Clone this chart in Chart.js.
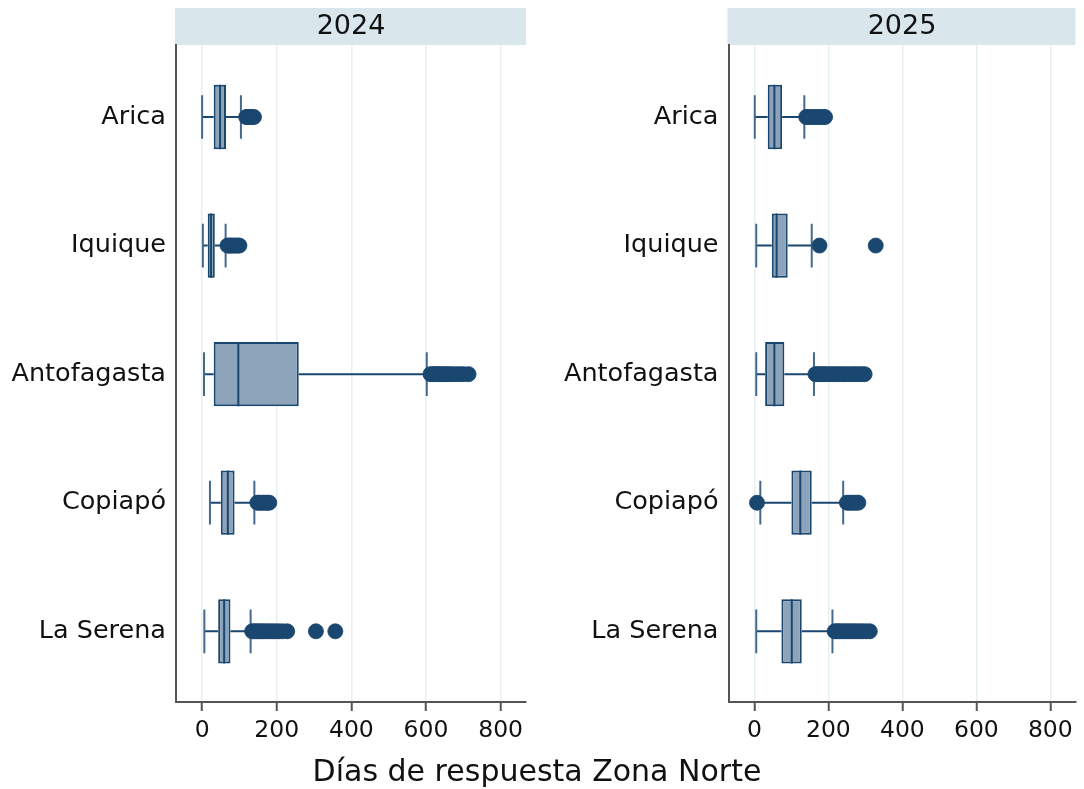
<!DOCTYPE html>
<html>
<head>
<meta charset="utf-8">
<script src="https://cdn.jsdelivr.net/npm/chart.js@4.4.1/dist/chart.umd.min.js"></script>
<style>
html,body{margin:0;padding:0;background:#fff;width:1084px;height:789px;overflow:hidden;}
#w1{position:absolute;left:0;top:0;width:540px;height:789px;}
#w2{position:absolute;left:540px;top:0;width:544px;height:789px;}
#xtitle{position:absolute;left:-5px;width:1084px;top:753px;text-align:center;font-family:'DejaVu Sans';font-size:30px;line-height:36px;color:#111;}
</style>
</head>
<body>
<div id="w1"><canvas id="c1"></canvas></div>
<div id="w2"><canvas id="c2"></canvas></div>
<div id="xtitle">Días de respuesta Zona Norte</div>
<script>
// ---- data ----
const cities = ['Arica', 'Iquique', 'Antofagasta', 'Copiapó', 'La Serena'];
const xTicks = [0, 200, 400, 600, 800];

// 2024
const lo2024  = [0, 2, 5, 21, 6];
const q1_2024 = [31, 15, 31, 50, 43];
const med2024 = [48, 24, 97, 69, 59];
const q3_2024 = [64, 34, 259, 87, 76];
const hi2024  = [104, 63, 602, 140, 130];
const out2024 = [
  [118, 122, 126, 130, 134, 139],
  [68, 72, 76, 80, 85, 90, 95, 100],
  [612, 618, 624, 630, 636, 642, 648, 655, 662, 670, 680, 690, 700, 714],
  [148, 153, 158, 164, 170, 175, 180],
  [134, 140, 146, 152, 158, 165, 172, 180, 188, 196, 205, 215, 228, 305, 357]
];

// 2025
const lo2025  = [1, 5, 5, 16, 5];
const q1_2025 = [36, 47, 29, 100, 73];
const med2025 = [54, 60, 54, 124, 101];
const q3_2025 = [75, 90, 81, 155, 128];
const hi2025  = [135, 155, 161, 240, 211];
const out2025 = [
  [140, 146, 152, 158, 165, 172, 180, 186, 191],
  [176, 328],
  [165, 171, 177, 184, 191, 198, 206, 214, 222, 230, 238, 246, 255, 264, 272, 281, 290, 298],
  [7, 250, 256, 262, 268, 275, 281],
  [217, 223, 229, 235, 242, 249, 256, 263, 270, 278, 286, 294, 303, 312]
];

// ---- style ----
const NAVY = '#1a476f';
const BOXFILL = '#8ca3ba';
const CAPCOL = '#45698e';
const GRID = '#e6eff2';
const AXIS = '#555555';
const STRIP = '#d9e6eb';
const FONT = 'DejaVu Sans';
const BOX_HALF = 0.25;
const CAP_HALF = 0.17;

const stripPlugin = {
  id: 'strip',
  beforeDraw(chart) {
    const a = chart.chartArea, ctx = chart.ctx;
    ctx.save();
    ctx.fillStyle = STRIP;
    ctx.fillRect(a.left - 1, 8, a.right - a.left + 1, a.top - 8);
    ctx.restore();
  }
};

function makeChart(id, year, lo, q1, med, q3, hi, outs, yWidth, padRight) {
  const boxData = cities.map((c, i) => ({ y: i, x: [q1[i], q3[i]] }));
  const whiskers = [], medians = [], caps = [], outliers = [];
  cities.forEach((c, i) => {
    whiskers.push({ x: lo[i], y: i }, { x: q1[i], y: i }, { x: null, y: null },
                  { x: q3[i], y: i }, { x: hi[i], y: i }, { x: null, y: null });
    medians.push({ x: med[i], y: i - BOX_HALF }, { x: med[i], y: i + BOX_HALF }, { x: null, y: null });
    caps.push({ x: lo[i], y: i - CAP_HALF }, { x: lo[i], y: i + CAP_HALF }, { x: null, y: null },
              { x: hi[i], y: i - CAP_HALF }, { x: hi[i], y: i + CAP_HALF }, { x: null, y: null });
    outs[i].forEach(v => outliers.push({ x: v, y: i }));
  });

  return new Chart(document.getElementById(id), {
    type: 'scatter',
    data: {
      datasets: [
        { type: 'scatter', data: outliers, order: 0, pointRadius: 7.5, pointHoverRadius: 7.5,
          backgroundColor: NAVY, borderColor: 'rgba(26,71,111,0.85)', borderWidth: 1 },
        { type: 'scatter', data: caps, order: 1, showLine: true, spanGaps: false, pointRadius: 0,
          borderColor: CAPCOL, borderWidth: 2 },
        { type: 'scatter', data: medians, order: 2, showLine: true, spanGaps: false, pointRadius: 0,
          borderColor: NAVY, borderWidth: 2 },
        { type: 'bar', data: boxData, order: 3, indexAxis: 'y',
          backgroundColor: BOXFILL, borderColor: NAVY, borderWidth: 2, borderSkipped: false,
          categoryPercentage: 0.5, barPercentage: 1.0 },
        { type: 'scatter', data: whiskers, order: 4, showLine: true, spanGaps: false, pointRadius: 0,
          borderColor: NAVY, borderWidth: 2 }
      ]
    },
    options: {
      responsive: true,
      maintainAspectRatio: false,
      animation: false,
      events: [],
      layout: { padding: { left: 0, right: padRight, top: 0, bottom: 37 } },
      plugins: {
        legend: { display: false },
        tooltip: { enabled: false },
        title: {
          display: true, text: year, fullSize: false, color: '#111',
          font: { family: FONT, size: 27, weight: 'normal', lineHeight: 37 / 27 },
          padding: { top: 8, bottom: 0 }
        }
      },
      scales: {
        x: {
          type: 'linear', min: -70, max: 868, offset: false,
          afterBuildTicks: s => { s.ticks = xTicks.map(v => ({ value: v })); },
          afterFit: s => { s.height = 50; },
          grid: { color: GRID, lineWidth: 1.5, offset: false, drawTicks: true, tickLength: 9, tickColor: AXIS, tickWidth: 2 },
          border: { display: true, color: AXIS, width: 2 },
          ticks: { font: { family: FONT, size: 23.5 }, color: '#111', padding: 6, maxRotation: 0 }
        },
        y: {
          type: 'linear', reverse: true, min: -0.56, max: 4.55, offset: false,
          afterBuildTicks: s => { s.ticks = cities.map((c, i) => ({ value: i })); },
          afterFit: s => { s.width = yWidth; },
          grid: { display: false, drawTicks: false, offset: false },
          border: { display: true, color: AXIS, width: 2 },
          ticks: { font: { family: FONT, size: 25.5 }, color: '#111', padding: 10,
                   callback: v => cities[v] }
        }
      }
    },
    plugins: [stripPlugin]
  });
}

makeChart('c1', '2024', lo2024, q1_2024, med2024, q3_2024, hi2024, out2024, 176, 14);
makeChart('c2', '2025', lo2025, q1_2025, med2025, q3_2025, hi2025, out2025, 188.5, 6);
</script>
</body>
</html>
